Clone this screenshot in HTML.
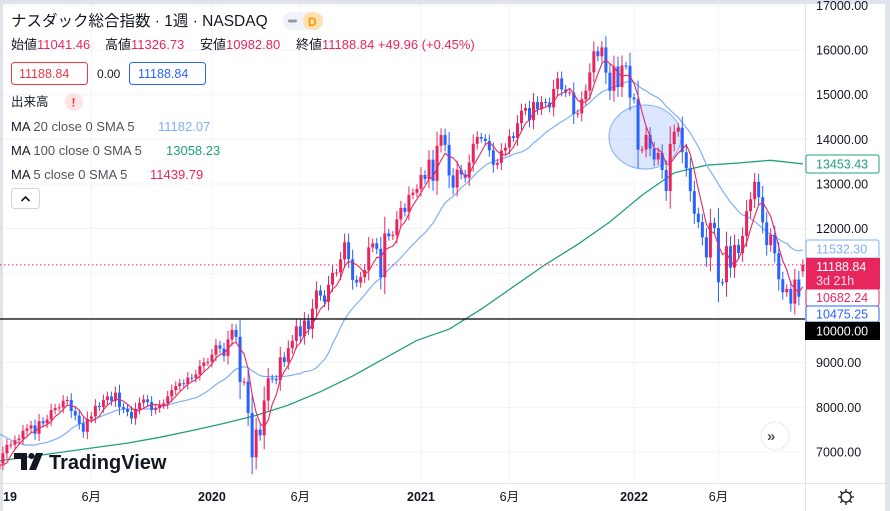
<!DOCTYPE html>
<html><head><meta charset="utf-8">
<style>
body{margin:0;background:#e0e3eb;width:890px;height:511px;overflow:hidden;font-family:"Liberation Sans","Noto Sans CJK JP",sans-serif;}
svg{position:absolute;left:0;top:0}
.t{font-family:"Liberation Sans","Noto Sans CJK JP",sans-serif}
</style></head><body>
<svg id="c" width="890" height="511" xmlns="http://www.w3.org/2000/svg">
<rect x="3" y="4" width="882" height="507" fill="#fff"/>
<g id="grid"></g>
<g id="ma100"></g>
<g id="ma20"></g>
<ellipse cx="645" cy="137" rx="36" ry="32" fill="rgba(41,98,255,0.16)" stroke="#7fb0f5" stroke-width="1"/>
<g id="candles"></g>
<g id="ma5"></g>
<line x1="0" y1="319" x2="805" y2="319" stroke="#000" stroke-width="1.2"/>
<line id="lastline" x1="0" x2="805" stroke="#e8265e" stroke-width="1" stroke-dasharray="1.5,2.5"/>
<line x1="805.5" y1="4" x2="805.5" y2="511" stroke="#e0e3eb"/>
<line x1="3" y1="483.5" x2="885" y2="483.5" stroke="#e0e3eb"/>
<g id="yaxis"></g>
<g id="xaxis"></g>
<g class="t" font-size="12.5">
<rect x="806" y="155" width="73" height="18" fill="#fff" stroke="#22a07a" rx="2"/>
<text x="816" y="168.5" fill="#22a07a">13453.43</text>
<rect x="806" y="240" width="73" height="18" fill="#fff" stroke="#7fb0f5" rx="2"/>
<text x="816" y="253.5" fill="#7fb0f5">11532.30</text>
<rect x="806" y="258" width="74" height="31" fill="#e8265e"/>
<text x="816" y="271" fill="#fff">11188.84</text>
<text x="816" y="285" fill="#fde">3d 21h</text>
<rect x="806" y="289" width="73" height="17" fill="#fff" stroke="#e8265e" rx="2"/>
<text x="816" y="302" fill="#e8265e">10682.24</text>
<rect x="806" y="306" width="73" height="16" fill="#fff" stroke="#2962ff" rx="2"/>
<text x="816" y="318.5" fill="#2962ff">10475.25</text>
<rect x="805" y="322" width="75" height="18" fill="#000"/>
<text x="816" y="335.5" fill="#fff">10000.00</text>
</g>
<g class="t">
<text x="11" y="26" font-size="15.5" fill="#131722">ナスダック総合指数 · 1週 · NASDAQ</text>
<rect x="283" y="12" width="40" height="18" rx="9" fill="#f0f3fa"/>
<rect x="303" y="12" width="20" height="18" rx="9" fill="#ffe0b2"/>
<rect x="288" y="19.5" width="9" height="3" rx="1.5" fill="#9598a1"/>
<text x="308" y="26" font-size="12" font-weight="bold" fill="#ff9800">D</text>
<text x="11" y="49" font-size="13" fill="#131722">始値<tspan fill="#e8265e">11041.46</tspan><tspan x="105">高値</tspan><tspan fill="#e8265e">11326.73</tspan><tspan x="200">安値</tspan><tspan fill="#e8265e">10982.80</tspan><tspan x="296">終値</tspan><tspan fill="#e8265e">11188.84 +49.96 (+0.45%)</tspan></text>
<rect x="11.5" y="62.5" width="76" height="22" rx="3" fill="#fff" stroke="#f23645"/>
<text x="19" y="78" font-size="12.5" fill="#f23645">11188.84</text>
<text x="97" y="78" font-size="12" fill="#131722">0.00</text>
<rect x="129.5" y="62.5" width="76" height="22" rx="3" fill="#fff" stroke="#2962ff"/>
<text x="138" y="78" font-size="12.5" fill="#2962ff">11188.84</text>
<text x="11" y="106" font-size="12.5" fill="#131722">出来高</text>
<circle cx="74" cy="102" r="9" fill="#fde4e7"/>
<text x="71.5" y="106.5" font-size="12" font-weight="bold" fill="#f23645">!</text>
<text x="11" y="131" font-size="13" fill="#131722">MA <tspan fill="#50535e">20 close 0 SMA 5</tspan><tspan x="158" fill="#7fb0f5">11182.07</tspan></text>
<text x="11" y="155" font-size="13" fill="#131722">MA <tspan fill="#50535e">100 close 0 SMA 5</tspan><tspan x="166" fill="#22a07a">13058.23</tspan></text>
<text x="11" y="179" font-size="13" fill="#131722">MA <tspan fill="#50535e">5 close 0 SMA 5</tspan><tspan x="150" fill="#e8265e">11439.79</tspan></text>
<rect x="11.5" y="188.5" width="28" height="20" rx="3" fill="#fff" stroke="#d1d4dc"/>
<path d="M21.5 201 L25.5 197 L29.5 201" fill="none" stroke="#131722" stroke-width="1.6"/>
</g>
<g>
<path d="M14 453 H27 V470 H21 V459 H14 Z" fill="#131722"/>
<circle cx="31.5" cy="456" r="3" fill="#131722"/>
<path d="M36 453 H43 L36 470 H29 Z" fill="#131722"/>
<text x="49" y="469" class="t" font-size="20" font-weight="bold" fill="#131722">TradingView</text>
</g>
<g>
<circle cx="775" cy="436" r="14" fill="#fff" stroke="#e8eaf0"/>
<text x="767" y="441" class="t" font-size="15" font-weight="bold" fill="#50535e">»</text>
</g>
<g fill="none" stroke="#131722" stroke-width="1.3">
<circle cx="846" cy="497" r="5"/>
<path d="M846 489v3M846 502v3M838 497h3M851 497h3M840.3 491.3l2.1 2.1M849.6 500.6l2.1 2.1M840.3 502.7l2.1-2.1M849.6 493.4l2.1-2.1"/>
</g>
</svg>
<script>
const priorCloses=[7946,8110,8103,8010,7987,8047,7789,7497,7449,7167,7357,7407,7248,7247,7330,6970,6911,6333,6585];
const closes=[
6739,6971,7157,7165,7263,7298,7472,7527,7595,7408,7688,7643,7729,7939,7984,7998,8146,8164,7917,7816,7637,7453,7742,7797,8032,8006,8162,8244,8146,8330,8004,7959,7896,7752,7963,8103,8177,8118,7940,7982,8057,8090,8243,8386,8475,8540,8520,8665,8657,8735,8924,9006,
9021,9179,9389,9315,9151,9520,9731,9577,8567,8576,7875,6880,7502,7373,8153,8650,8634,8605,9121,9015,9325,9490,9815,9589,9946,9757,10208,10617,10503,10363,10745,11011,11019,11312,11696,11313,10853,10794,10914,11075,11580,11672,11548,10912,11895,11830,11855,12206,12464,12378,12756,12805,12888,
13202,13112,13543,13070,13856,14095,13874,13192,12920,13319,13215,13138,13480,13900,14052,14016,13962,13752,13430,13471,13748,13814,14069,14030,14360,14639,14701,14428,14837,14673,14836,14823,14715,15129,15363,15115,15044,15048,14567,14580,14897,15090,15498,15971,15860,16057,15491,15085,15630,15169,15653,15645,
14936,14894,13768,13771,14098,13791,13548,13694,13313,12843,13893,14169,14262,13711,13351,12839,12335,12145,11805,11355,12131,12013,10799,10798,11608,11128,11635,11452,11834,12391,12658,13048,12705,12141,11631,11862,11448,10868,10576,10652,10321,10860,10475,11188.84];
const lastOpen=11041.46;
const ma100Idx=[0,8,16,24,32,40,48,56,64,72,80,88,96,104,112,120,128,136,144,152,160,168,176,184,192,200];
const ma100Vals=[6800,6900,7000,7100,7200,7330,7480,7640,7820,8050,8350,8700,9100,9500,9750,10200,10700,11200,11650,12150,12750,13250,13420,13470,13530,13450];
const yTicks=[7000,8000,9000,10000,11000,12000,13000,14000,15000,16000,17000];
const xTickLabels=["19","6月","2020","6月","2021","6月","2022","6月"];
const xTickIdx=[0,22,52,74,104,126,157,178];
const lastPrice=11188.84;

const NS="http://www.w3.org/2000/svg";
const Y=v=>452-(v-7000)*0.04467;
const X=i=>628+(i-156.5)*4.02;
function mk(tag,attrs,parent){const e=document.createElementNS(NS,tag);for(const k in attrs)e.setAttribute(k,attrs[k]);parent.appendChild(e);return e;}
const grid=document.getElementById('grid'),ya=document.getElementById('yaxis'),xa=document.getElementById('xaxis');
yTicks.forEach(v=>{
  const l=mk('line',{x1:3,x2:805,y1:Y(v),y2:Y(v),stroke:'#f0f3fa'},grid);
  
  
  if(v===10000)return;
  const t=mk('text',{x:816,y:Y(v)+4.5,'font-size':12.5,fill:'#131722',class:'t'},ya);
  t.textContent=v.toFixed(2);
  
  
});
xTickIdx.forEach((i,k)=>{
  const x=X(i)+4;
  if(k>0){const l=mk('line',{x1:x,x2:x,y1:4,y2:483,stroke:'#f0f3fa'},grid);
  
  }
  const lab=xTickLabels[k];const bold=/^\d+$/.test(lab);
  const t=mk('text',{x:k===0?3:x,y:501,'font-size':12.5,fill:'#131722','text-anchor':k===0?'start':'middle','font-weight':bold?'bold':'normal',class:'t'},xa);
  t.textContent=lab;
  
  
});
const cg=document.getElementById('candles');
closes.forEach((c,i)=>{
  const o=i===closes.length-1?lastOpen:(i===0?priorCloses[priorCloses.length-1]+40:closes[i-1]);
  const up=c>=o, col=up?'#e8265e':'#2962ff';
  const x=X(i);const hi=Math.max(o,c),lo=Math.min(o,c);const ext=Math.abs(c-o)*0.3+80;
  const w=mk('line',{x1:x,x2:x,y1:Y(hi+ext),y2:Y(lo-ext),stroke:col,'stroke-width':1},cg);
  
  
  const b=mk('rect',{x:x-1.5,y:Y(hi),width:3,height:Math.max(1,Y(lo)-Y(hi)),fill:col},cg);
  
  
});
function sma(n){const all=priorCloses.concat(closes),off=priorCloses.length,out=[];
  for(let i=0;i<closes.length;i++){const j=i+off;const s=Math.max(0,j-n+1);let t=0;for(let k=s;k<=j;k++)t+=all[k];out.push(t/(j-s+1));}return out;}
function line(vals,xs,col,w,id,name){const d=vals.map((v,k)=>(k?'L':'M')+xs[k].toFixed(1)+' '+Y(v).toFixed(1)).join(' ');
  const p=mk('path',{d:d,fill:'none',stroke:col,'stroke-width':w},document.getElementById(id));
  
  }
const idxs=closes.map((_,i)=>X(i));
line(sma(20),idxs,'#7fb0f5',1.2,'ma20','ma20-path');
line(sma(5),idxs,'#e8265e',1.1,'ma5','ma5-path');
line(ma100Vals,ma100Idx.map(X),'#22a07a',1.3,'ma100','ma100-path');
const ll=document.getElementById('lastline');ll.setAttribute('y1',Y(lastPrice));ll.setAttribute('y2',Y(lastPrice));
</script>
</body></html>
